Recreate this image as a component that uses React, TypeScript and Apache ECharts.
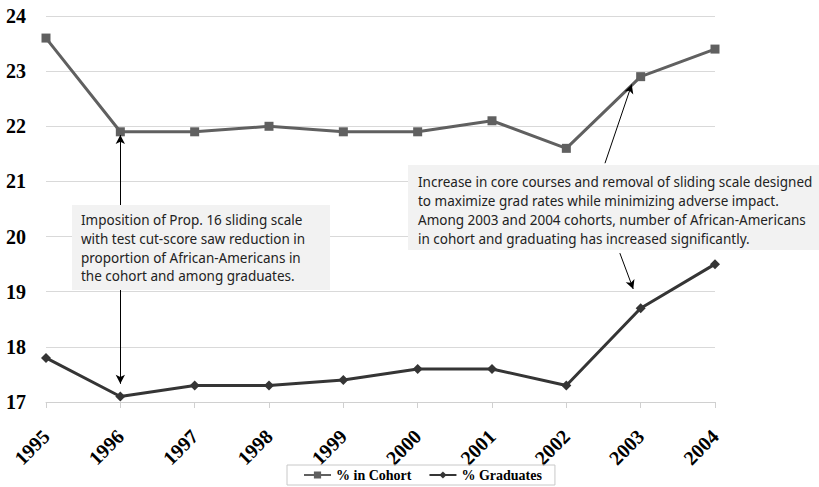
import React, { useEffect, useRef } from "react";
import * as echarts from "echarts";

const years = [1995, 1996, 1997, 1998, 1999, 2000, 2001, 2002, 2003, 2004];
const cohort = [23.6, 21.9, 21.9, 22.0, 21.9, 21.9, 22.1, 21.6, 22.9, 23.4];
const graduates = [17.8, 17.1, 17.3, 17.3, 17.4, 17.6, 17.6, 17.3, 18.7, 19.5];
const seriesNames = ["% in Cohort", "% Graduates"];

const note1 =
  "Imposition of Prop. 16 sliding scale\nwith test cut-score saw reduction in\nproportion of African-Americans in\nthe cohort and among graduates.";
const note2 =
  "Increase in core courses and removal of sliding scale designed\nto maximize grad rates while minimizing adverse impact.\nAmong 2003 and 2004 cohorts, number of African-Americans\nin cohort and graduating has increased significantly.";

// arrows: [fromX, fromY, toX, toY] in data coordinates
const arrows = [
  [1996, 20.57, 1996, 21.84],
  [1996, 19.03, 1996, 17.33],
  [2002.52, 21.33, 2002.88, 22.76],
  [2002.72, 19.7, 2002.9, 19.05],
];

export default function App() {
  const ref = useRef<HTMLDivElement>(null);
  useEffect(() => {
    const chart = echarts.init(ref.current!, null, { renderer: "svg" });
    const serif = "'Liberation Serif', 'Times New Roman', serif";
    const noteFont = "'Noto Sans', sans-serif";
    chart.setOption({
      animation: false,
      backgroundColor: "#ffffff",
      grid: { left: 46, right: 104, top: 16, bottom: 85, containLabel: false },
      xAxis: {
        type: "value",
        min: 1995,
        max: 2004,
        interval: 1,
        axisLine: { show: true, lineStyle: { color: "#d0d0d0", width: 1 } },
        axisTick: { show: true, length: 6, lineStyle: { color: "#d0d0d0" } },
        splitLine: { show: false },
        axisLabel: {
          rotate: 45,
          margin: 31,
          color: "#000",
          fontFamily: serif,
          fontWeight: "bold",
          fontSize: 20,
          formatter: (v: number) => String(v),
        },
      },
      yAxis: {
        type: "value",
        min: 17,
        max: 24,
        interval: 1,
        axisLine: { show: false },
        axisTick: { show: false },
        splitLine: { show: true, lineStyle: { color: "#d9d9d9", width: 1 } },
        axisLabel: {
          margin: 20,
          color: "#000",
          fontFamily: serif,
          fontWeight: "bold",
          fontSize: 20,
        },
      },
      legend: {
        top: 465,
        left: 287,
        itemWidth: 27,
        itemHeight: 9,
        itemGap: 17,
        padding: [3, 13, 3, 16],
        borderColor: "#c8c8c8",
        borderWidth: 1,
        textStyle: {
          fontFamily: serif,
          fontWeight: "bold",
          fontSize: 14,
          color: "#000",
        },
        data: seriesNames,
      },
      series: [
        {
          name: seriesNames[0],
          type: "line",
          data: years.map((y, i) => [y, cohort[i]]),
          symbol: "rect",
          symbolSize: 9,
          lineStyle: { color: "#606060", width: 3 },
          itemStyle: { color: "#606060" },
          markLine: {
            silent: true,
            symbol: ["none", "arrow"],
            symbolSize: [7, 9],
            label: { show: false },
            lineStyle: { color: "#000", width: 1, type: "solid" },
            data: arrows.map((a) => [
              { coord: [a[0], a[1]] },
              { coord: [a[2], a[3]] },
            ]),
          },
        },
        {
          name: seriesNames[1],
          type: "line",
          data: years.map((y, i) => [y, graduates[i]]),
          symbol: "diamond",
          symbolSize: 10,
          lineStyle: { color: "#353535", width: 3 },
          itemStyle: { color: "#353535" },
        },
      ],
      graphic: [
        {
          type: "rect",
          shape: { x: 72, y: 205, width: 258, height: 85 },
          style: { fill: "#f2f2f2" },
          z: 10,
        },
        {
          type: "text",
          x: 81,
          y: 211,
          z: 11,
          style: {
            text: note1,
            fill: "#222",
            font: "13.5px " + noteFont,
            lineHeight: 18.7,
          },
        },
        {
          type: "rect",
          shape: { x: 408, y: 165, width: 411, height: 85 },
          style: { fill: "#f2f2f2" },
          z: 10,
        },
        {
          type: "text",
          x: 418,
          y: 172,
          z: 11,
          style: {
            text: note2,
            fill: "#222",
            font: "13.5px " + noteFont,
            lineHeight: 19,
          },
        },
      ],
    });
    return () => chart.dispose();
  }, []);
  return (
    <div
      ref={ref}
      style={{ position: "absolute", left: 0, top: 0, width: 819, height: 487 }}
    />
  );
}
